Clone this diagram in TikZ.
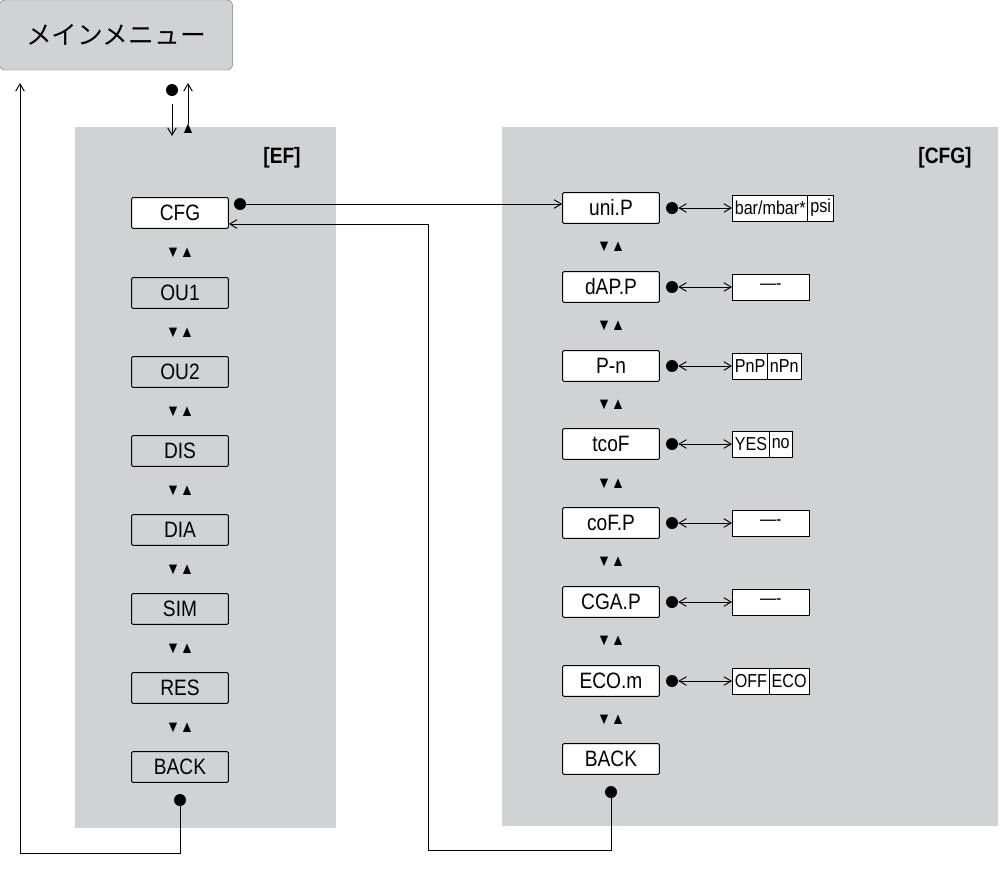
\documentclass[tikz,border=0pt]{standalone}
\usepackage{fontspec}
\setmainfont{Liberation Sans}[FakeStretch=0.86]
\newfontfamily\jpfont{Noto Sans CJK JP}
\usepackage{tikz}
\usetikzlibrary{positioning,arrows.meta}
\definecolor{panel}{RGB}{209,210,212}
\tikzset{
  item/.style={draw, thick, rounded corners=1pt, fill=panel, minimum width=2.9cm, minimum height=0.92cm, inner sep=0pt, font=\fontsize{19}{22}\selectfont},
  witem/.style={item, fill=white},
  val/.style={draw, thick, fill=white, minimum height=0.78cm, inner sep=2pt, font=\fontsize{16}{19}\selectfont},
  knob/.style={circle, fill=black, inner sep=0pt, minimum size=0.36cm},
  nav/.style={font=\fontsize{14}{16}\selectfont, inner sep=0pt},
  arr/.style={-{Straight Barb[length=2.2mm,width=2.6mm]}},
  darr/.style={{Straight Barb[length=2.2mm,width=2.6mm]}-{Straight Barb[length=2.2mm,width=2.6mm]}}
}
\begin{document}
\begin{tikzpicture}[x=0.03cm, y=-0.03cm]
\useasboundingbox (0,0) rectangle (1006,884);
\fill[panel] (75,127) rectangle (336,828);
\fill[panel] (502,127) rectangle (998,826);
\node[draw=gray, fill=panel, rounded corners=5pt, minimum width=7cm, minimum height=2.1cm, font=\jpfont\fontsize{22}{26}\selectfont] (main) at (116,35) {メインメニュー};
\node[font=\bfseries\fontsize{19}{22}\selectfont] (ef) at (282,158) {[EF]};
\node[font=\bfseries\fontsize{19}{22}\selectfont] (cfg) at (945,158) {[CFG]};

% EF menu
\node[witem] (A1) at (180,213) {CFG};
\node[item] (A2) at (180,293) {OU1};
\node[item] (A3) at (180,372) {OU2};
\node[item] (A4) at (180,451) {DIS};
\node[item] (A5) at (180,530) {DIA};
\node[item] (A6) at (180,609) {SIM};
\node[item] (A7) at (180,688) {RES};
\node[item] (A8) at (180,767) {BACK};
\node[nav] at (180,253) {▼▲};\node[nav] at (180,333) {▼▲};\node[nav] at (180,412) {▼▲};
\node[nav] at (180,491) {▼▲};\node[nav] at (180,570) {▼▲};\node[nav] at (180,649) {▼▲};
\node[nav] at (180,728) {▼▲};
\node[knob] (k1) at (240,204) {};
\node[knob] (k8) at (180,800) {};

% CFG menu
\node[witem] (B1) at (611,208) {uni.P};
\node[witem] (B2) at (611,287) {dAP.P};
\node[witem] (B3) at (611,366) {P-n};
\node[witem] (B4) at (611,444) {tcoF};
\node[witem] (B5) at (611,523) {coF.P};
\node[witem] (B6) at (611,602) {CGA.P};
\node[witem] (B7) at (611,681) {ECO.m};
\node[witem] (B8) at (611,759) {BACK};
\node[nav] at (611,247) {▼▲};\node[nav] at (611,326) {▼▲};\node[nav] at (611,405) {▼▲};
\node[nav] at (611,484) {▼▲};\node[nav] at (611,562) {▼▲};\node[nav] at (611,641) {▼▲};
\node[nav] at (611,720) {▼▲};
\node[knob] (kb8) at (611,792) {};

\node[knob] (c1) at (672,208) {};\node[knob] (c2) at (672,287) {};\node[knob] (c3) at (672,366) {};
\node[knob] (c4) at (672,444) {};\node[knob] (c5) at (672,523) {};\node[knob] (c6) at (672,602) {};
\node[knob] (c7) at (672,681) {};

\node[val, anchor=west] (V1) at (732,208) {bar/mbar*};\node[val, right=-0.8pt of V1] (V1b) {psi};
\node[val, anchor=west, minimum width=2.3cm] (V2) at (732,287) {----};
\node[val, anchor=west] (V3) at (732,366) {PnP};\node[val, right=-0.8pt of V3] (V3b) {nPn};
\node[val, anchor=west] (V4) at (732,444) {YES};\node[val, right=-0.8pt of V4] (V4b) {no};
\node[val, anchor=west, minimum width=2.3cm] (V5) at (732,523) {----};
\node[val, anchor=west, minimum width=2.3cm] (V6) at (732,602) {----};
\node[val, anchor=west] (V7) at (732,681) {OFF};\node[val, right=-0.8pt of V7] (V7b) {ECO};

\path[darr, thick] (c1) edge (V1);\path[darr, thick] (c2) edge (V2);\path[darr, thick] (c3) edge (V3);
\path[darr, thick] (c4) edge (V4);\path[darr, thick] (c5) edge (V5);\path[darr, thick] (c6) edge (V6);
\path[darr, thick] (c7) edge (V7);

% links
\coordinate (t1) at (172,104);\coordinate (t2) at (172,136);
\node[knob] (kt) at (172,90) {};
\node[nav] (up) at (188,129) {▲};
\coordinate (t3) at (188,83);
\draw[arr, thick] (t1) -- (t2);
\draw[arr, thick] (up) -- (t3);
\draw[arr, thick] (k1) -- (B1.west |- k1);
\draw[arr, thick] (kb8) -- (611,850) -| (428,224) -- (A1.east |- 0,224);
\draw[arr, thick] (k8) -- (180,853) -| (20,83);
\end{tikzpicture}
\end{document}
